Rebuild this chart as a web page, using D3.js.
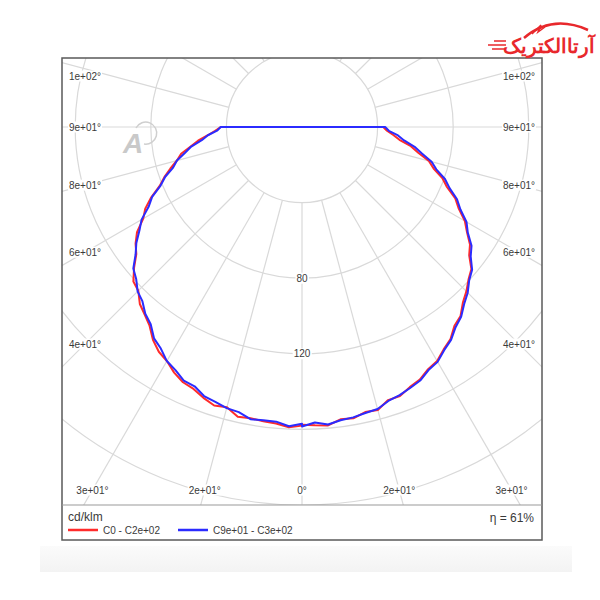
<!DOCTYPE html>
<html>
<head>
<meta charset="utf-8">
<script src="https://cdn.jsdelivr.net/npm/d3@7"></script>
<style>
  body { margin: 0; background: #fff; }
  text { font-family: "Liberation Sans", Arial, sans-serif; }
</style>
</head>
<body>
<svg width="600" height="600"></svg>
<script>

// gamma angles (deg from nadir), same for every half-plane
var angles = [0, 2.5, 5, 7.5, 10, 12.5, 15, 17.5, 20, 22.5, 25, 27.5, 30, 32.5, 35, 37.5, 40, 42.5, 45,
  47.5, 50, 52.5, 55, 57.5, 60, 62.5, 65, 67.5, 70, 72.5, 75, 77.5, 80, 82.5, 85, 87.5, 90];

// cd/klm, red plane C0 - C180
var c180Values = [158, 159, 157.5, 157, 156.5, 157, 153.5, 154.5, 152.5, 150, 149, 146.5, 143, 141, 137.5, 132.5, 129.5, 127, 122.5,
  121, 116, 110.5, 107.5, 103.5, 97, 93.5, 88, 81.5, 77.5, 73, 68.5, 65.5, 60, 55.5, 50, 46, 43];
var c0Values = [157.5, 158, 158.5, 156, 156.5, 154.5, 155, 151.5, 151.5, 149, 147.5, 144.5, 143, 139.5, 137, 132.5, 130.5, 126, 123,
  119.5, 117, 111.5, 108.5, 103.5, 99.5, 93.5, 89.5, 83, 79, 73, 69.5, 63, 58.5, 52, 48.5, 45, 43];

// cd/klm, blue plane C90 - C270
var c270Values = [157, 158.5, 156.5, 156.5, 157, 154.5, 154, 152.5, 151.5, 148.5, 148, 145, 143, 139, 136.5, 131.5, 129, 125, 123,
  119, 116.5, 111, 107, 102, 98, 91.5, 87.5, 81, 77, 71.5, 68.5, 63.5, 59.5, 53.5, 50, 45, 43];
var c90Values = [158.5, 156.5, 158, 156.5, 156, 155, 154.5, 152, 151, 149.5, 148, 145, 143.5, 140, 137.5, 133.5, 131, 127, 124,
  120, 117.5, 112.5, 109.5, 104, 100.5, 94.5, 90.5, 84.5, 80.5, 74.5, 71, 65, 60.5, 54.5, 51, 46, 44];

var ringValues = [40, 80, 120, 160, 200];
var ringLabels = ["", "80", "120", "", ""];
var spokeAngles = [0, 15, 30, 45, 60, 75, 90, 105, 120, 135, 150, 165, 180];
var labelAngles = [0, 15, 30, 45, 60, 75, 90, 105];
var angleLabels = ["0°", "2e+01°", "3e+01°", "4e+01°", "6e+01°", "8e+01°", "9e+01°", "1e+02°"];

var series = [
  { name: "C0 - C2e+02", left: c180Values, right: c0Values, color: "#ff2b2b" },
  { name: "C9e+01 - C3e+02", left: c270Values, right: c90Values, color: "#2b2bff" }
];
var efficiency = "η = 61%";
var unitLabel = "cd/klm";

var svg = d3.select("svg");

var cx = 302, cy = 127;
var box = { x0: 62, x1: 542, y0: 58, y1: 505, bottom: 540 };

var r = d3.scaleLinear().domain([0, 200]).range([0, 378]);

function toXY(phi, v) {
  var a = phi * Math.PI / 180;
  return [cx + r(v) * Math.sin(a), cy + r(v) * Math.cos(a)];
}

// faint page shading under the chart
var grad = svg.append("defs").append("linearGradient")
  .attr("id", "shade").attr("x1", 0).attr("x2", 0).attr("y1", 0).attr("y2", 1);
grad.append("stop").attr("offset", 0).attr("stop-color", "#fbfbfb");
grad.append("stop").attr("offset", 1).attr("stop-color", "#f3f3f3");
svg.append("rect")
  .attr("x", 40).attr("y", 546).attr("width", 532).attr("height", 26)
  .attr("fill", "url(#shade)");

svg.append("defs").append("clipPath").attr("id", "plotclip")
  .append("rect")
  .attr("x", box.x0).attr("y", box.y0)
  .attr("width", box.x1 - box.x0).attr("height", box.y1 - box.y0);

svg.append("rect")
  .attr("x", box.x0).attr("y", box.y0)
  .attr("width", box.x1 - box.x0).attr("height", box.bottom - box.y0)
  .attr("fill", "#fff");

var grid = svg.append("g").attr("clip-path", "url(#plotclip)");

grid.selectAll("circle.ring")
  .data(ringValues)
  .enter().append("circle")
    .attr("class", "ring")
    .attr("cx", cx).attr("cy", cy)
    .attr("r", function(d) { return r(d); })
    .attr("fill", "none")
    .attr("stroke", "#d9d9d9")
    .attr("stroke-width", 1.2);

var spokes = [];
spokeAngles.forEach(function(a) {
  spokes.push(a);
  if (a !== 0 && a !== 180) spokes.push(-a);
});

grid.selectAll("line.spoke")
  .data(spokes)
  .enter().append("line")
    .attr("class", "spoke")
    .attr("x1", function(d) { return toXY(d, 40)[0]; })
    .attr("y1", function(d) { return toXY(d, 40)[1]; })
    .attr("x2", function(d) { return toXY(d, 400)[0]; })
    .attr("y2", function(d) { return toXY(d, 400)[1]; })
    .attr("stroke", "#d9d9d9")
    .attr("stroke-width", 1.2);

// text with white box behind
function boxedText(g, x, y, txt, size) {
  var t = g.append("text")
    .attr("x", x).attr("y", y)
    .attr("text-anchor", "middle")
    .attr("dominant-baseline", "central")
    .attr("font-size", size)
    .attr("fill", "#3a3a3a")
    .text(txt);
  var bb = t.node().getBBox();
  g.insert("rect", "text")
    .attr("x", bb.x - 1).attr("y", bb.y)
    .attr("width", bb.width + 2).attr("height", bb.height)
    .attr("fill", "#fff");
  return t;
}

var labelsG = svg.append("g");

ringValues.forEach(function(v, i) {
  if (!ringLabels[i]) return;
  var g = labelsG.append("g");
  boxedText(g, cx, cy + r(v), ringLabels[i], 10);
});

var inner = { left: 85, right: 519, bottom: 490, top: 76 };
labelAngles.forEach(function(a, i) {
  var sides = a === 0 ? [1] : [-1, 1];
  sides.forEach(function(s) {
    var phi = a * s * Math.PI / 180;
    var sx = Math.sin(phi), sy = Math.cos(phi);
    var tx = sx < 0 ? (inner.left - cx) / sx : sx > 0 ? (inner.right - cx) / sx : Infinity;
    var ty = sy > 0 ? (inner.bottom - cy) / sy : Infinity;
    var t = Math.min(tx, ty);
    var x = cx + t * sx, y = Math.max(inner.top, cy + t * sy);
    var g = labelsG.append("g");
    boxedText(g, x, y, angleLabels[i], 10);
  });
});

// curves
var line = d3.line().curve(d3.curveLinearClosed);

var curves = svg.append("g").attr("clip-path", "url(#plotclip)");
series.forEach(function(s) {
  var pts = [];
  for (var i = angles.length - 1; i >= 0; i--) pts.push(toXY(-angles[i], s.left[i]));
  for (var j = 0; j < angles.length; j++) pts.push(toXY(angles[j], s.right[j]));
  curves.append("path")
    .attr("d", line(pts))
    .attr("fill", "none")
    .attr("stroke", s.color)
    .attr("stroke-width", 2)
    .attr("stroke-linejoin", "round");
});

// frame
svg.append("rect")
  .attr("x", box.x0).attr("y", box.y0)
  .attr("width", box.x1 - box.x0).attr("height", box.bottom - box.y0)
  .attr("fill", "none")
  .attr("stroke", "#5a5a5a")
  .attr("stroke-width", 1.5);
svg.append("line")
  .attr("x1", box.x0).attr("x2", box.x1)
  .attr("y1", box.y1).attr("y2", box.y1)
  .attr("stroke", "#9a9a9a")
  .attr("stroke-width", 1.2);

// legend
svg.append("text")
  .attr("x", 68).attr("y", 521)
  .attr("font-size", 12).attr("fill", "#3a3a3a")
  .text(unitLabel);

svg.append("text")
  .attr("x", 534).attr("y", 522)
  .attr("text-anchor", "end")
  .attr("font-size", 12).attr("fill", "#3a3a3a")
  .text(efficiency);

var legendX = [68, 178];
series.forEach(function(s, i) {
  var g = svg.append("g").attr("transform", "translate(" + legendX[i] + ",530)");
  g.append("line")
    .attr("x1", 0).attr("x2", 30)
    .attr("stroke", s.color).attr("stroke-width", 2.5);
  g.append("text")
    .attr("x", 35).attr("y", 3.5)
    .attr("font-size", 10).attr("fill", "#3a3a3a")
    .text(s.name);
});

// watermark
var wm = svg.append("g").attr("fill", "none").attr("stroke", "#cfcfcf");
wm.append("path").attr("d", "M136,128 a11,11 0 1,1 8,16").attr("stroke-width", 1.5);
svg.append("text")
  .attr("x", 133).attr("y", 153)
  .attr("text-anchor", "middle")
  .attr("font-size", 28).attr("font-weight", "bold").attr("font-style", "italic")
  .attr("fill", "#c9c9c9")
  .text("A");

// logo
var logo = svg.append("g");
logo.append("path")
  .attr("d", "M524,38 Q552,14 588,30")
  .attr("fill", "none").attr("stroke", "#e8282c").attr("stroke-width", 2.5);
logo.append("path")
  .attr("d", "M532,34 l9,-9 l-3,7 l7,-5")
  .attr("fill", "none").attr("stroke", "#e8282c").attr("stroke-width", 1.5);
logo.selectAll("line.speed")
  .data([[41, 494], [45, 488], [49, 492]])
  .enter().append("line")
    .attr("x1", function(d) { return d[1]; }).attr("x2", 506)
    .attr("y1", function(d) { return d[0]; }).attr("y2", function(d) { return d[0]; })
    .attr("stroke", "#e8282c").attr("stroke-width", 1.5);
logo.append("text")
  .attr("x", 595).attr("y", 53)
  .attr("text-anchor", "end")
  .attr("font-family", "DejaVu Sans")
  .attr("font-size", 20).attr("font-weight", "bold")
  .attr("fill", "#e8282c")
  .text("آرتاالکتریک");

</script>
</body>
</html>
